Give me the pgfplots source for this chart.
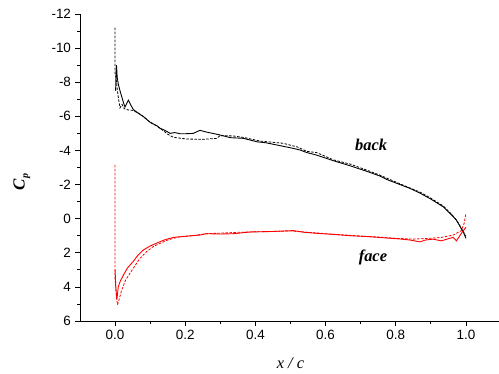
\documentclass[border=0pt]{standalone}
\usepackage{fontspec}
\setmainfont{Liberation Serif}
\newfontfamily\arial{Liberation Sans}
\usepackage{pgfplots}
\pgfplotsset{compat=1.18}
\begin{document}
\begin{tikzpicture}
\begin{axis}[
  name=ax,
  at={(0,0)}, anchor=south west,
  scale only axis, width=421bp, height=307bp,
  xmin=-0.1, xmax=1.1, ymin=-12, ymax=6,
  y dir=reverse,
  axis x line=bottom, axis y line=left,
  axis line style={-, line width=0.8bp},
  xtick={0,0.2,0.4,0.6,0.8,1.0},
  ytick={-12,-10,-8,-6,-4,-2,0,2,4,6},
  minor x tick num=1, minor y tick num=1,
  tick align=outside,
  major tick length=4.5bp, minor tick length=2.5bp,
  tick style={line width=0.7bp, black},
  ticklabel style={font=\arial\fontsize{13.5}{15}\selectfont},
  yticklabel style={xshift=-1bp},
  x tick label style={yshift=-1.5bp, /pgf/number format/.cd, fixed, fixed zerofill, precision=1},
  /pgf/number format/assume math mode=true,
  xlabel={\fontsize{16.5}{18}\selectfont\itshape x / c},
  ylabel={\fontsize{17}{19}\selectfont\bfseries\itshape C\raisebox{-0.45ex}{\fontsize{10}{12}\selectfont p}},
  xlabel style={at={(axis description cs:0.5,-0.137)}, anchor=center},
  ylabel style={at={(axis description cs:-0.138,0.453)}, anchor=center},
  clip=false,
]
% back, solid
\addplot[black, line width=0.9bp] coordinates {
(0.0015,-7.5) (0.003,-8.6) (0.004,-9.0) (0.006,-8.3) (0.009,-7.9) (0.014,-7.5) (0.019,-7.15) (0.024,-6.8) (0.028,-6.55) (0.033,-6.75) (0.038,-6.95) (0.045,-6.65) (0.052,-6.4) (0.065,-6.2) (0.081,-5.98) (0.1,-5.65) (0.119,-5.45) (0.128,-5.3) (0.14,-5.2) (0.157,-5.0) (0.17,-5.05) (0.185,-4.98) (0.2,-4.98) (0.223,-5.0) (0.242,-5.18) (0.26,-5.08) (0.29,-4.95) (0.31,-4.85) (0.328,-4.75) (0.366,-4.71) (0.404,-4.51) (0.43,-4.45) (0.461,-4.32) (0.499,-4.16) (0.527,-4.03) (0.546,-3.88) (0.574,-3.73) (0.622,-3.4) (0.67,-3.1) (0.717,-2.78) (0.755,-2.5) (0.774,-2.3) (0.84,-1.78) (0.869,-1.5) (0.9,-1.15) (0.935,-0.7) (0.96,-0.2) (0.973,0.08) (0.983,0.45) (0.993,0.8) (1.0,1.15)
};
% back, dashed
\addplot[black, line width=0.8bp, dash pattern=on 2.5bp off 1.5bp] coordinates {
(0.0,-11.2) (0.0,-8.5) (0.003,-8.2) (0.006,-7.6) (0.01,-7.0) (0.014,-6.5) (0.02,-6.7) (0.026,-6.45) (0.038,-6.37) (0.05,-6.35) (0.065,-6.2) (0.08,-6.0) (0.1,-5.65) (0.12,-5.42) (0.138,-5.15) (0.15,-4.95) (0.166,-4.77) (0.204,-4.67) (0.25,-4.65) (0.29,-4.71) (0.299,-4.87) (0.337,-4.85) (0.37,-4.75) (0.413,-4.55) (0.479,-4.42) (0.52,-4.2) (0.546,-3.95) (0.575,-3.87) (0.622,-3.45) (0.67,-3.2) (0.717,-2.85) (0.755,-2.55) (0.8,-2.15) (0.84,-1.8) (0.87,-1.55) (0.9,-1.2) (0.935,-0.75) (0.96,-0.25) (0.98,0.3) (0.99,0.7) (1.0,1.0)
};
% face, solid
\addplot[red, line width=0.9bp] coordinates {
(0.0,3.0) (0.002,4.0) (0.005,4.75) (0.007,4.4) (0.009,4.0) (0.015,3.65) (0.024,3.3) (0.035,2.9) (0.052,2.5) (0.065,2.15) (0.081,1.83) (0.1,1.6) (0.119,1.43) (0.14,1.25) (0.166,1.1) (0.2,1.03) (0.242,0.96) (0.261,0.88) (0.3,0.9) (0.338,0.88) (0.385,0.78) (0.45,0.75) (0.508,0.7) (0.54,0.8) (0.575,0.86) (0.62,0.92) (0.67,1.0) (0.72,1.05) (0.765,1.12) (0.812,1.19) (0.84,1.25) (0.869,1.36) (0.885,1.25) (0.906,1.2) (0.93,1.3) (0.954,1.15) (0.964,1.1) (0.973,1.3) (0.987,0.86) (1.0,0.5)
};
% face, dashed
\addplot[red, line width=0.8bp, dash pattern=on 2.5bp off 1.5bp] coordinates {
(0.0,-3.15) (0.0,3.5) (0.004,4.6) (0.007,5.05) (0.012,4.7) (0.019,4.18) (0.03,3.6) (0.052,2.9) (0.07,2.35) (0.09,1.93) (0.11,1.62) (0.128,1.45) (0.15,1.25) (0.18,1.08) (0.22,1.0) (0.26,0.88) (0.3,0.85) (0.35,0.8) (0.4,0.77) (0.45,0.75) (0.5,0.72) (0.55,0.8) (0.6,0.88) (0.65,0.95) (0.7,1.02) (0.75,1.08) (0.8,1.15) (0.85,1.2) (0.897,1.15) (0.93,1.1) (0.964,0.96) (0.987,0.7) (0.995,0.27) (1.0,-0.31)
};
\node[font=\fontsize{16.5}{18}\selectfont\bfseries\itshape] at (axis cs:0.73,-4.32) {back};
\node[font=\fontsize{16.5}{18}\selectfont\bfseries\itshape] at (axis cs:0.735,2.3) {face};
\end{axis}
\pgfresetboundingbox
\path[use as bounding box] (-80bp,-53bp) rectangle (419bp,321bp);
\end{tikzpicture}
\end{document}
